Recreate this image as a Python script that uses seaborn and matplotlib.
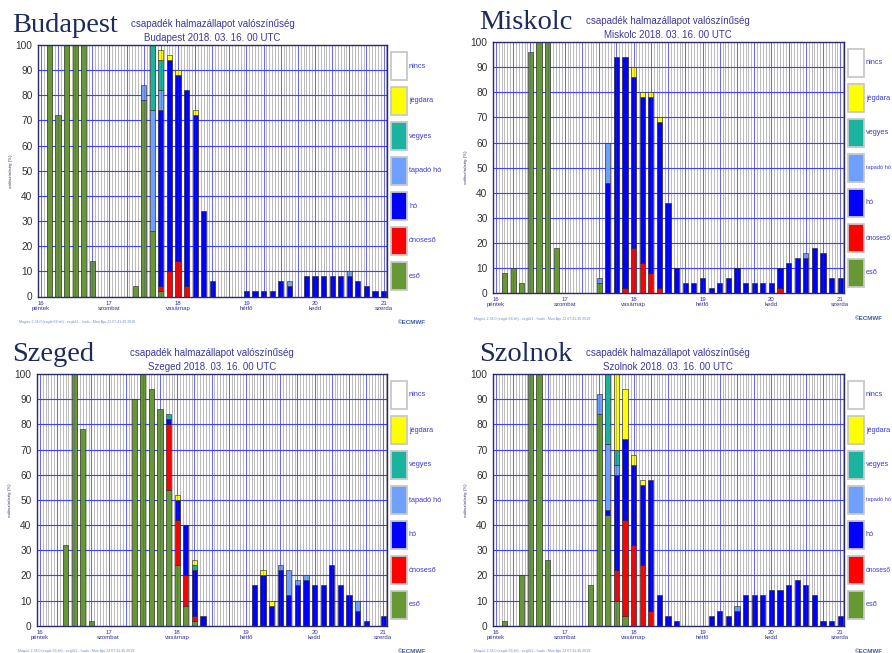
import numpy as np
import pandas as pd
import matplotlib
matplotlib.use("Agg")
import matplotlib.pyplot as plt
from matplotlib.patches import Rectangle
import seaborn as sns

# one bar every 3 hours, from 16 03 UTC to 21 00 UTC
HOURS = list(range(3, 121, 3))

# stack order (top -> bottom), seaborn stacks the last hue level at the bottom
TYPES = ["jégdara", "vegyes", "tapadó hó", "hó", "ónoseső", "eső"]
LEGEND_LABELS = ["nincs", "jégdara", "vegyes", "tapadó hó", "hó", "ónoseső", "eső"]
COLORS = {
    "nincs": "#ffffff",
    "jégdara": "#ffff00",
    "vegyes": "#1ab3a0",
    "tapadó hó": "#70a0ff",
    "hó": "#0000ff",
    "ónoseső": "#ff0000",
    "eső": "#669933",
}
DAY_LABELS = ["16\npéntek", "17\nszombat", "18\nvasárnap", "19\nhétfő", "20\nkedd", "21\nszerda"]

# values in %, one list entry per bar (8 bars per day)
BUDAPEST_ESO = [100, 72, 100, 100, 100, 14, 0, 0,   0, 0, 4, 78, 26, 2, 0, 0,
                0, 0, 0, 0, 0, 0, 0, 0,   0, 0, 0, 0, 0, 0, 0, 0,   0, 0, 0, 0, 0, 0, 0, 0]
BUDAPEST_ONOS = [0, 0, 0, 0, 0, 0, 0, 0,   0, 0, 0, 0, 0, 2, 10, 14,
                 4, 0, 0, 0, 0, 0, 0, 0,   0, 0, 0, 0, 0, 0, 0, 0,   0, 0, 0, 0, 0, 0, 0, 0]
BUDAPEST_HO = [0, 0, 0, 0, 0, 0, 0, 0,   0, 0, 0, 0, 0, 70, 84, 74,
               78, 72, 34, 6, 0, 0, 0, 2,   2, 2, 2, 6, 4, 0, 8, 8,   8, 8, 8, 8, 6, 4, 2, 2]
BUDAPEST_TAPADO = [0, 0, 0, 0, 0, 0, 0, 0,   0, 0, 0, 6, 48, 8, 0, 0,
                   0, 0, 0, 0, 0, 0, 0, 0,   0, 0, 0, 0, 2, 0, 0, 0,   0, 0, 0, 2, 0, 0, 0, 0]
BUDAPEST_VEGYES = [0, 0, 0, 0, 0, 0, 0, 0,   0, 0, 0, 0, 26, 12, 0, 0,
                   0, 0, 0, 0, 0, 0, 0, 0,   0, 0, 0, 0, 0, 0, 0, 0,   0, 0, 0, 0, 0, 0, 0, 0]
BUDAPEST_JEG = [0, 0, 0, 0, 0, 0, 0, 0,   0, 0, 0, 0, 0, 4, 2, 2,
                0, 2, 0, 0, 0, 0, 0, 0,   0, 0, 0, 0, 0, 0, 0, 0,   0, 0, 0, 0, 0, 0, 0, 0]

MISKOLC_ESO = [8, 10, 4, 96, 100, 100, 18, 0,   0, 0, 0, 4, 0, 0, 0, 0,
               0, 0, 0, 0, 0, 0, 0, 0,   0, 0, 0, 0, 0, 0, 0, 0,   0, 0, 0, 0, 0, 0, 0, 0]
MISKOLC_ONOS = [0, 0, 0, 0, 0, 0, 0, 0,   0, 0, 0, 0, 0, 0, 2, 18,
                12, 8, 2, 0, 0, 0, 0, 0,   0, 0, 0, 0, 0, 0, 0, 0,   2, 0, 0, 0, 0, 0, 0, 0]
MISKOLC_HO = [0, 0, 0, 0, 0, 0, 0, 0,   0, 0, 0, 0, 44, 94, 92, 68,
              66, 70, 66, 36, 10, 4, 4, 6,   2, 4, 6, 10, 4, 4, 4, 4,   8, 12, 14, 14, 18, 16, 6, 6]
MISKOLC_TAPADO = [0, 0, 0, 0, 0, 0, 0, 0,   0, 0, 0, 2, 16, 0, 0, 0,
                  0, 0, 0, 0, 0, 0, 0, 0,   0, 0, 0, 0, 0, 0, 0, 0,   0, 0, 0, 2, 0, 0, 0, 0]
MISKOLC_VEGYES = [0] * 40
MISKOLC_JEG = [0, 0, 0, 0, 0, 0, 0, 0,   0, 0, 0, 0, 0, 0, 0, 4,
               2, 2, 2, 0, 0, 0, 0, 0,   0, 0, 0, 0, 0, 0, 0, 0,   0, 0, 0, 0, 0, 0, 0, 0]

SZEGED_ESO = [0, 0, 32, 100, 78, 2, 0, 0,   0, 0, 90, 100, 94, 86, 54, 24,
              8, 2, 0, 0, 0, 0, 0, 0,   0, 0, 0, 0, 0, 0, 0, 0,   0, 0, 0, 0, 0, 0, 0, 0]
SZEGED_ONOS = [0, 0, 0, 0, 0, 0, 0, 0,   0, 0, 0, 0, 0, 0, 26, 18,
               12, 2, 0, 0, 0, 0, 0, 0,   0, 0, 0, 0, 0, 0, 0, 0,   0, 0, 0, 0, 0, 0, 0, 0]
SZEGED_HO = [0, 0, 0, 0, 0, 0, 0, 0,   0, 0, 0, 0, 0, 0, 2, 8,
             20, 18, 4, 0, 0, 0, 0, 0,   16, 20, 8, 22, 12, 16, 18, 16,   16, 24, 16, 12, 6, 2, 0, 4]
SZEGED_TAPADO = [0, 0, 0, 0, 0, 0, 0, 0,   0, 0, 0, 0, 0, 0, 0, 0,
                 0, 0, 0, 0, 0, 0, 0, 0,   0, 0, 0, 2, 10, 2, 2, 0,   0, 0, 0, 0, 4, 0, 0, 0]
SZEGED_VEGYES = [0, 0, 0, 0, 0, 0, 0, 0,   0, 0, 0, 0, 0, 0, 2, 0,
                 0, 2, 0, 0, 0, 0, 0, 0,   0, 0, 0, 0, 0, 0, 0, 0,   0, 0, 0, 0, 0, 0, 0, 0]
SZEGED_JEG = [0, 0, 0, 0, 0, 0, 0, 0,   0, 0, 0, 0, 0, 0, 0, 2,
              0, 2, 0, 0, 0, 0, 0, 0,   0, 2, 2, 0, 0, 0, 0, 0,   0, 0, 0, 0, 0, 0, 0, 0]

SZOLNOK_ESO = [2, 0, 20, 100, 100, 26, 0, 0,   0, 0, 16, 84, 44, 10, 4, 0,
               0, 0, 0, 0, 0, 0, 0, 0,   0, 0, 0, 0, 0, 0, 0, 0,   0, 0, 0, 0, 0, 0, 0, 0]
SZOLNOK_ONOS = [0, 0, 0, 0, 0, 0, 0, 0,   0, 0, 0, 0, 0, 12, 38, 32,
                24, 6, 0, 0, 0, 0, 0, 0,   0, 0, 0, 0, 0, 0, 0, 0,   0, 0, 0, 0, 0, 0, 0, 0]
SZOLNOK_HO = [0, 0, 0, 0, 0, 0, 0, 0,   0, 0, 0, 0, 2, 38, 32, 32,
              32, 52, 12, 4, 2, 0, 0, 0,   4, 6, 4, 6, 12, 12, 12, 14,   14, 16, 18, 16, 12, 2, 2, 4]
SZOLNOK_TAPADO = [0, 0, 0, 0, 0, 0, 0, 0,   0, 0, 0, 8, 26, 4, 0, 0,
                  0, 0, 0, 0, 0, 0, 0, 0,   0, 0, 0, 2, 0, 0, 0, 0,   0, 0, 0, 0, 0, 0, 0, 0]
SZOLNOK_VEGYES = [0, 0, 0, 0, 0, 0, 0, 0,   0, 0, 0, 0, 28, 6, 0, 0,
                  0, 0, 0, 0, 0, 0, 0, 0,   0, 0, 0, 0, 0, 0, 0, 0,   0, 0, 0, 0, 0, 0, 0, 0]
SZOLNOK_JEG = [0, 0, 0, 0, 0, 0, 0, 0,   0, 0, 0, 0, 0, 30, 20, 4,
               2, 0, 0, 0, 0, 0, 0, 0,   0, 0, 0, 0, 0, 0, 0, 0,   0, 0, 0, 0, 0, 0, 0, 0]

W, H = 892, 653
SANS = "Liberation Sans"


def fx(x):
    return x / W


def fy(y):
    return 1 - y / H


def make_frame(jeg, vegyes, tapado, ho, onos, eso):
    cols = dict(zip(TYPES, [jeg, vegyes, tapado, ho, onos, eso]))
    rows = []
    for t in TYPES:
        for h, v in zip(HOURS, cols[t]):
            rows.append({"hour": h, "type": t, "value": v})
    return pd.DataFrame(rows)


legend_texts = []


def panel(fig, city, box, title_x, data):
    left, top, right, bottom = box
    ax = fig.add_axes([fx(left), fy(bottom), fx(right) - fx(left), fy(top) - fy(bottom)])

    # background grid: hourly grey, 6-hourly blue
    ax.vlines(np.arange(-1, 122), 0, 100, colors="#bdbdbd", lw=0.75, zorder=0)
    ax.vlines(np.arange(0, 121, 6), 0, 100, colors="#8080ff", lw=0.75, zorder=0.4)
    ax.hlines(np.arange(10, 100, 10), -2, 122, colors="#3f3fff", lw=0.8, zorder=0.5)

    sns.histplot(data=data, x="hour", weights="value", hue="type", hue_order=TYPES,
                 multiple="stack", binwidth=3, binrange=(1.5, 121.5), shrink=0.6,
                 palette=COLORS, alpha=1, edgecolor="#222222", linewidth=0.4,
                 legend=False, ax=ax, zorder=2)
    for p in ax.patches:
        if p.get_height() == 0:
            p.set_visible(False)

    # the 6-hourly lines show faintly through the bars
    ax.vlines(np.arange(0, 121, 6), 0, 100, colors="#3a3a8a", lw=0.45, alpha=0.45, zorder=3)

    ax.set_xlim(-1.0, 121.2)
    ax.set_ylim(0, 100)
    ax.set_xticks(np.arange(0, 121, 24))
    ax.set_xticklabels(DAY_LABELS, fontsize=4.3, color="#333399", linespacing=1.0,
                       family=SANS)
    ax.set_xticks(np.arange(0, 121, 6), minor=True)
    ax.tick_params(axis="x", which="both", length=2, width=0.6, color="#333366", pad=1)
    ax.set_yticks(np.arange(0, 101, 10))
    ax.set_yticklabels([str(v) for v in range(0, 101, 10)], family=SANS)
    ax.tick_params(axis="y", labelsize=7.3, labelcolor="#333333", length=3, width=0.7,
                   color="#333366", pad=1)
    ax.set_xlabel("")
    ax.set_ylabel("valószínűség (%)", fontsize=3.2, color="#333366", labelpad=2,
                  family=SANS)
    for s in ax.spines.values():
        s.set_color("#2a2a66")
        s.set_linewidth(1.0)

    # titles
    cx = (left + right) / 2
    fig.text(fx(title_x), fy(top - 13), city, fontsize=20.5, family="Liberation Serif",
             color="#1c2a5c", ha="left", va="baseline")
    fig.text(fx(cx), fy(top - 21), "csapadék halmazállapot valószínűség", fontsize=7.0,
             color="#3a3a9a", ha="center", va="center", family=SANS)
    fig.text(fx(cx), fy(top - 7), f"{city} 2018. 03. 16. 00 UTC", fontsize=7.0,
             color="#3a3a9a", ha="center", va="center", family=SANS)

    # legend boxes
    for j, lab in enumerate(LEGEND_LABELS):
        y0 = top + 7 + 35 * j
        fig.add_artist(Rectangle((fx(right + 4), fy(y0 + 28)), 16 / W, 28 / H,
                                 transform=fig.transFigure, facecolor=COLORS[lab],
                                 edgecolor="#c8c8c8", lw=1.3))
        t = fig.text(fx(right + 22), fy(y0 + 14), lab, fontsize=5.3, color="#3c3ccc",
                     ha="left", va="center", family=SANS)
        legend_texts.append(t)

    # footer
    fig.text(fx(left - 19), fy(bottom + 25.5),
             "Magics 2.34.0 (eagle 64 bit) - ecgb11 - hudo - Mon Apr 23 07:41:45 2018",
             fontsize=2.6, color="#7090d0", ha="left", va="center", family=SANS)
    fig.text(fx(right + 11), fy(bottom + 25.5), "©ECMWF", fontsize=4.5,
             fontweight="bold", color="#3a5fb0", ha="left", va="center", family=SANS)
    return ax


sns.set_style("white")
fig = plt.figure(figsize=(W / 100, H / 100), dpi=100)

panel(fig, "Budapest", (38, 45, 387, 296.5), 12,
      make_frame(BUDAPEST_JEG, BUDAPEST_VEGYES, BUDAPEST_TAPADO, BUDAPEST_HO, BUDAPEST_ONOS, BUDAPEST_ESO))
panel(fig, "Miskolc", (493, 42, 843.7, 293.3), 479,
      make_frame(MISKOLC_JEG, MISKOLC_VEGYES, MISKOLC_TAPADO, MISKOLC_HO, MISKOLC_ONOS, MISKOLC_ESO))
panel(fig, "Szeged", (37, 374, 386.7, 625.7), 12,
      make_frame(SZEGED_JEG, SZEGED_VEGYES, SZEGED_TAPADO, SZEGED_HO, SZEGED_ONOS, SZEGED_ESO))
panel(fig, "Szolnok", (493, 374, 843.7, 625.7), 479,
      make_frame(SZOLNOK_JEG, SZOLNOK_VEGYES, SZOLNOK_TAPADO, SZOLNOK_HO, SZOLNOK_ONOS, SZOLNOK_ESO))

# legend labels of the right-hand panels run up to the image edge: shrink them to fit
renderer = fig.canvas.get_renderer()
for t in legend_texts:
    bb = t.get_window_extent(renderer)
    if bb.x1 > W - 1:
        t.set_fontsize(t.get_fontsize() * (W - 1.5 - bb.x0) / bb.width)

fig.savefig("out.png", dpi=100)
